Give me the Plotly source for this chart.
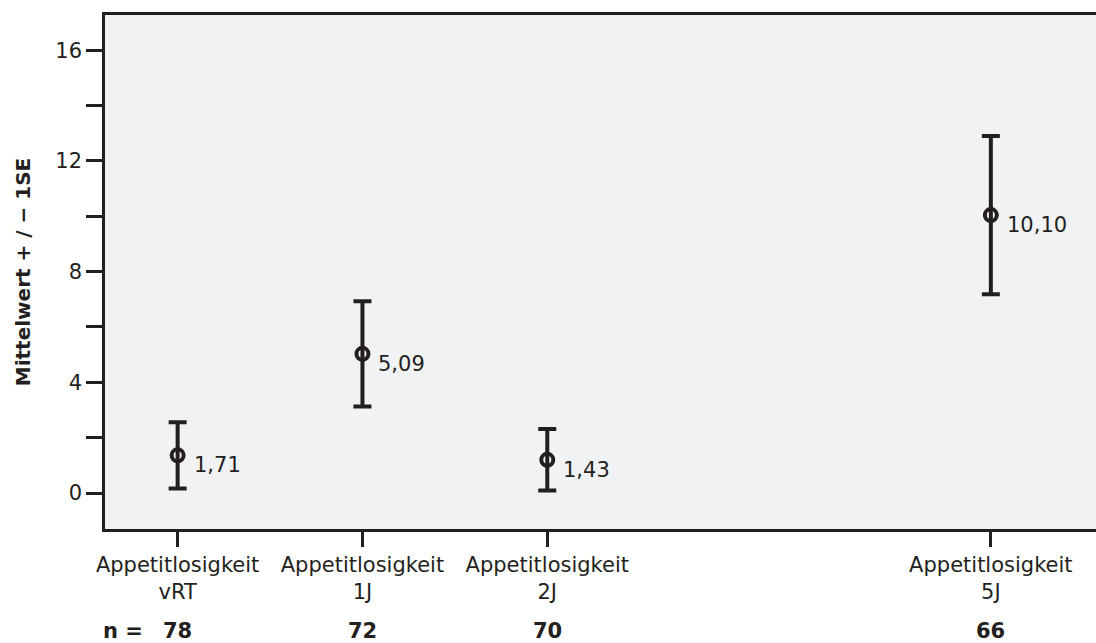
import plotly.graph_objects as go

# ---- data ----
categories = ["Appetitlosigkeit<br>vRT", "Appetitlosigkeit<br>1J",
              "Appetitlosigkeit<br>2J", "Appetitlosigkeit<br>5J"]
time_pos = [0, 1, 2, 4.4]          # horizontal position of each time point
means = [1.36, 5.03, 1.20, 10.04]  # plotted mean (circle centre)
se = [1.20, 1.90, 1.11, 2.86]      # +/- 1 SE
value_labels = ["1,71", "5,09", "1,43", "10,10"]
n_values = ["78", "72", "70", "66"]

INK = "#231f20"
FONT = "DejaVu Sans, Verdana, sans-serif"
FS = 21

fig = go.Figure()
fig.add_trace(go.Scatter(
    x=time_pos, y=means, mode="markers",
    marker=dict(symbol="circle-open", size=12, color=INK,
                line=dict(width=4, color=INK)),
    error_y=dict(type="data", array=se, visible=True,
                 color=INK, thickness=4, width=9),
    showlegend=False, hoverinfo="skip",
))

for x, y, t in zip(time_pos, means, value_labels):
    fig.add_annotation(x=x, y=y, text=t, showarrow=False,
                       xanchor="left", yanchor="middle",
                       xshift=14, yshift=-10,
                       font=dict(family=FONT, size=FS, color=INK))

for x, n in zip(time_pos, n_values):
    fig.add_annotation(x=x, xref="x", y=-0.198, yref="paper", text=f"<b>{n}</b>",
                       showarrow=False, xanchor="center", yanchor="middle",
                       font=dict(family=FONT, size=FS, color=INK))
fig.add_annotation(x=0, xref="paper", y=-0.198, yref="paper", text="<b>n =</b>",
                   showarrow=False, xanchor="left", yanchor="middle", xshift=-4,
                   font=dict(family=FONT, size=FS, color=INK))

fig.update_layout(
    width=1096, height=643,
    margin=dict(l=105, r=0, t=15, b=114),
    paper_bgcolor="white", plot_bgcolor="#f1f2f4",
    font=dict(family=FONT, size=FS, color=INK),
    xaxis=dict(range=[-0.393, 4.969], tickmode="array",
               tickvals=time_pos, ticktext=categories,
               ticks="outside", ticklen=15, tickwidth=2.5, tickcolor=INK,
               showline=True, linecolor=INK, linewidth=2.5, mirror=True,
               showgrid=False, zeroline=False,
               tickfont=dict(family=FONT, size=FS, color=INK)),
    yaxis=dict(range=[-1.30, 17.27], tickmode="linear", tick0=0, dtick=4,
               ticks="outside", ticklen=16, tickwidth=2.5, tickcolor=INK,
               minor=dict(tick0=0, dtick=2, ticks="outside", ticklen=16,
                          tickwidth=2.5, tickcolor=INK, showgrid=False),
               showline=True, linecolor=INK, linewidth=2.5,
               showgrid=False, zeroline=False,
               title=dict(text="<b>Mittelwert + / − 1SE</b>", standoff=20,
                          font=dict(family=FONT, size=20, color=INK)),
               tickfont=dict(family=FONT, size=FS, color=INK)),
)

fig.write_html("out.html")
